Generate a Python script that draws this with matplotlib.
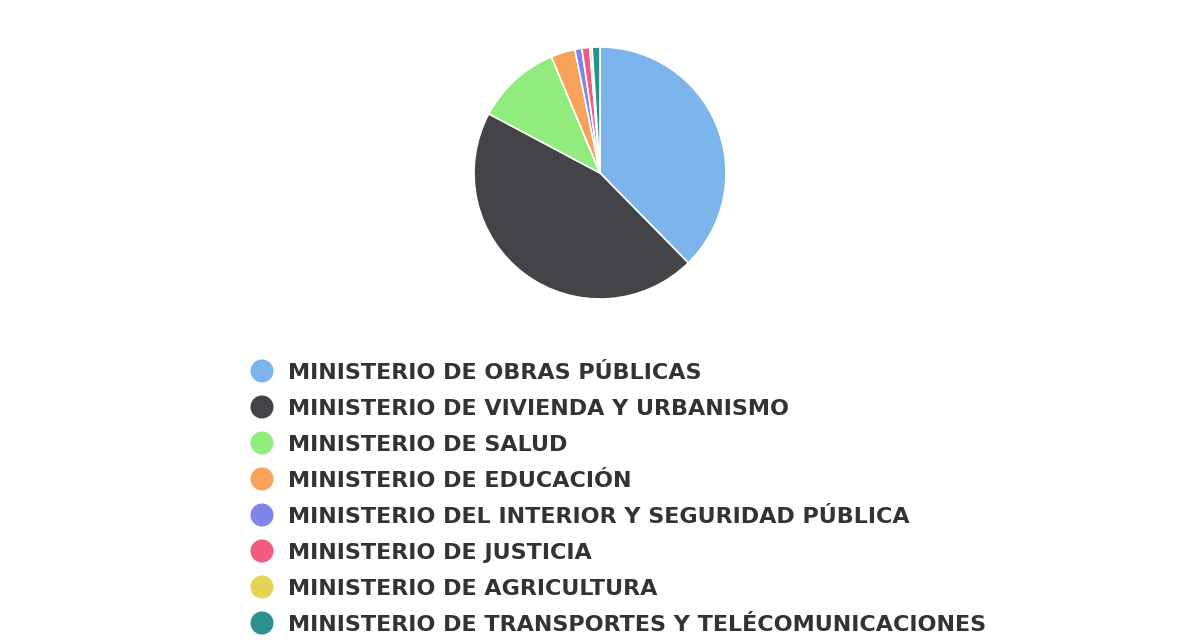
import matplotlib
matplotlib.use("Agg")
import matplotlib.pyplot as plt

categories = [
    "MINISTERIO DE OBRAS PÚBLICAS",
    "MINISTERIO DE VIVIENDA Y URBANISMO",
    "MINISTERIO DE SALUD",
    "MINISTERIO DE EDUCACIÓN",
    "MINISTERIO DEL INTERIOR Y SEGURIDAD PÚBLICA",
    "MINISTERIO DE JUSTICIA",
    "MINISTERIO DE AGRICULTURA",
    "MINISTERIO DE TRANSPORTES Y TELÉCOMUNICACIONES",
]
values = [37.6, 45.1, 10.9, 3.1, 0.9, 1.0, 0.3, 1.0]
colors = ["#7cb5ec", "#434348", "#90ed7d", "#f7a35c",
          "#8085e9", "#f15c80", "#e4d354", "#2b908f"]

W, H = 1200, 640
fig = plt.figure(figsize=(12, 6.4), dpi=100)
fig.patch.set_facecolor("white")

cx, cy, r = 600, 173, 126
ax = fig.add_axes([(cx - r) / W, (H - cy - r) / H, 2 * r / W, 2 * r / H])
ax.pie(values, colors=colors, startangle=90, counterclock=False, radius=1,
       wedgeprops=dict(edgecolor="white", linewidth=1.2))
ax.set_xlim(-1.0, 1.0)
ax.set_ylim(-1.0, 1.0)
ax.set_aspect("equal")
ax.axis("off")

ov = fig.add_axes([0, 0, 1, 1])
ov.set_xlim(0, W)
ov.set_ylim(H, 0)
ov.axis("off")
for i, (cat, col) in enumerate(zip(categories, colors)):
    y = 371 + 36 * i
    ov.scatter([262], [y], s=23 * 23 * 0.52, color=col, edgecolors="none")
    ov.text(288, y + 8, cat, ha="left", va="baseline", fontsize=16,
            fontfamily="DejaVu Sans", fontweight="bold", color="#333333")

fig.savefig("out.png", dpi=100, facecolor="white")
